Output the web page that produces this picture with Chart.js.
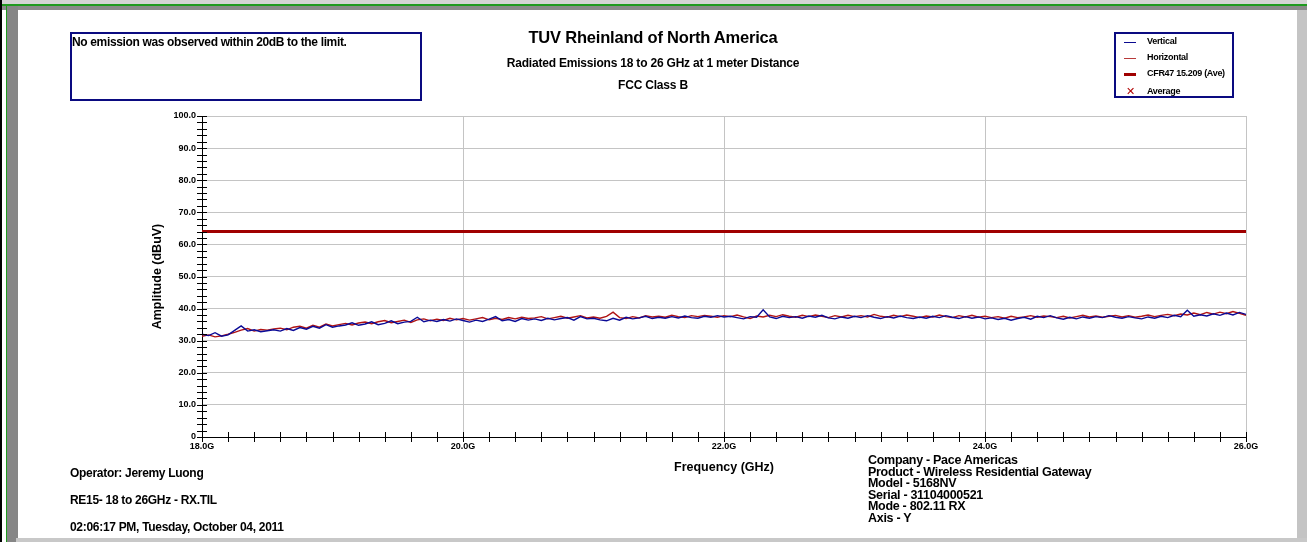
<!DOCTYPE html>
<html>
<head>
<meta charset="utf-8">
<script src="https://cdn.jsdelivr.net/npm/chart.js@4.4.1/dist/chart.umd.min.js"></script>
<style>
  body { margin: 0; background: #fff; font-family: 'Liberation Sans', Arial, sans-serif; }
  #wrap { position: relative; width: 1307px; height: 542px; overflow: hidden; background: #fff; }
  #c { position: absolute; left: 0; top: 0; }
  .abs { position: absolute; white-space: nowrap; font-weight: bold; color: #000; }
  .frame { position: absolute; }
  .box { position: absolute; border: 2px solid #0a0a80; box-sizing: border-box; }
  .leg { position: absolute; font-size: 9px; font-weight: bold; letter-spacing: -0.3px; }
  .sample { position: absolute; height: 0; }
</style>
</head>
<body>
<div id="wrap">
  <!-- window frame -->
  <div class="frame" style="left:0;top:0;width:1307px;height:4px;background:#d4d4d4"></div>
  <div class="frame" style="left:0;top:4px;width:1307px;height:2px;background:#1f9a1f"></div>
  <div class="frame" style="left:0;top:6px;width:1307px;height:4px;background:#8a8a8a"></div>
  <div class="frame" style="left:0;top:0;width:2px;height:542px;background:#000"></div>
  <div class="frame" style="left:6px;top:4px;width:1px;height:538px;background:#1f9a1f"></div>
  <div class="frame" style="left:7px;top:6px;width:11px;height:536px;background:#868686"></div>
  <div class="frame" style="left:1297px;top:10px;width:10px;height:532px;background:#c4c4c4"></div>
  <div class="frame" style="left:16px;top:538px;width:1291px;height:4px;background:#c8c8c8"></div>

  <canvas id="c" width="1307" height="538"></canvas>

  <!-- note box -->
  <div class="box" style="left:70px;top:32px;width:352px;height:69px"></div>
  <div class="abs" style="left:72px;top:35px;font-size:12px;letter-spacing:-0.35px">No emission was observed within 20dB to the limit.</div>

  <!-- titles -->
  <div class="abs" style="left:403px;width:500px;text-align:center;top:28px;font-size:16.5px;letter-spacing:-0.2px">TUV Rheinland of North America</div>
  <div class="abs" style="left:403px;width:500px;text-align:center;top:56px;font-size:12px;letter-spacing:-0.2px">Radiated Emissions 18 to 26 GHz at 1 meter Distance</div>
  <div class="abs" style="left:403px;width:500px;text-align:center;top:78px;font-size:12px;letter-spacing:-0.2px">FCC Class B</div>

  <!-- legend -->
  <div class="box" style="left:1114px;top:32px;width:120px;height:66px"></div>
  <div class="sample" style="left:1124px;top:42px;width:12px;border-top:1px solid #0a0a90"></div>
  <div class="leg" style="left:1147px;top:36px">Vertical</div>
  <div class="sample" style="left:1124px;top:58px;width:12px;border-top:1px solid #b83a3a"></div>
  <div class="leg" style="left:1147px;top:52px">Horizontal</div>
  <div class="sample" style="left:1124px;top:73px;width:12px;border-top:3px solid #a00000"></div>
  <div class="leg" style="left:1147px;top:68px">CFR47 15.209 (Ave)</div>
  <div class="leg" style="left:1126px;top:85px;font-size:11px;color:#b00000;font-weight:normal">&#x2715;</div>
  <div class="leg" style="left:1147px;top:86px">Average</div>

  <!-- footer texts -->
  <div class="abs" style="left:70px;top:466px;font-size:12px;letter-spacing:-0.3px">Operator: Jeremy Luong</div>
  <div class="abs" style="left:70px;top:493px;font-size:12px;letter-spacing:-0.3px">RE15- 18 to 26GHz - RX.TIL</div>
  <div class="abs" style="left:70px;top:520px;font-size:12px;letter-spacing:-0.3px">02:06:17 PM, Tuesday, October 04, 2011</div>
  <div class="abs" style="left:868px;top:455px;font-size:12.5px;line-height:11.5px;letter-spacing:-0.3px">Company - Pace Americas<br>Product - Wireless Residential Gateway<br>Model - 5168NV<br>Serial - 31104000521<br>Mode - 802.11 RX<br>Axis - Y</div>
</div>

<script>
// sweep: 18 GHz to 26 GHz, one reading every 0.05 GHz
const FREQ_START = 18.0;
const FREQ_STEP = 0.05;

// Vertical polarisation trace (dBuV)
const vertical = [
  32.0, 31.6, 32.5, 31.4, 31.8, 33.2, 34.6, 33.0, 33.4, 32.8, 33.1,
  33.4, 33.0, 33.8, 33.2, 34.1, 33.6, 34.5, 33.9, 35.0, 34.2,
  34.6, 34.9, 35.6, 34.8, 35.2, 35.9, 35.0, 35.4, 36.2, 35.3,
  35.8, 36.0, 37.3, 35.9, 36.4, 36.0, 36.6, 36.1, 36.8, 36.3,
  35.8, 36.4, 36.0, 36.7, 37.5, 36.2, 36.6, 36.0, 36.9, 36.4,
  36.8, 36.3, 37.0, 36.5, 36.9, 37.2, 36.4, 37.5, 36.8, 37.0,
  36.5, 36.2, 37.0, 36.4, 37.3, 36.8, 37.1, 37.6, 36.9, 37.3,
  37.0, 37.5, 37.1, 37.7, 37.2, 37.0, 37.6, 37.3, 37.8, 37.4,
  37.6, 37.2, 36.8, 37.5, 37.3, 39.6, 37.4, 36.9, 37.6, 37.2,
  37.5, 37.0, 37.7, 37.3, 37.9, 37.1, 36.8, 37.4, 37.0, 37.6,
  37.2, 37.8, 37.3, 36.9, 37.5, 37.1, 37.7, 37.2, 36.9, 37.4,
  37.0, 37.6, 37.2, 37.8, 37.3, 36.9, 37.5, 37.0, 37.4, 36.8,
  37.1, 36.6, 37.0, 36.4, 36.9, 37.3, 36.7, 37.6, 37.2, 37.8,
  37.1, 36.7, 37.3, 36.8, 37.4, 37.0, 37.5, 37.2, 37.8, 37.3,
  37.0, 37.5, 37.1, 36.8, 37.4, 37.0, 37.6, 37.2, 37.9, 37.5,
  39.5, 37.6, 38.1, 37.7, 38.4, 37.9, 38.6, 38.0, 38.8, 38.2
];

// Horizontal polarisation trace (dBuV)
const horizontal = [
  31.4, 31.8, 31.2, 31.5, 32.0, 32.6, 33.3, 33.8, 33.0, 33.5, 33.3,
  33.7, 33.9, 33.4, 34.2, 34.5, 33.9, 34.8, 34.2, 35.2, 34.6,
  35.0, 35.4, 34.9, 35.5, 35.8, 35.3, 35.9, 36.3, 35.6, 36.0,
  36.4, 35.7, 36.5, 36.8, 36.2, 36.7, 36.3, 37.0, 36.5, 36.9,
  36.4, 36.8, 37.2, 36.5, 37.0, 36.6, 37.2, 36.8, 37.3, 36.9,
  37.1, 37.5, 36.8, 37.2, 37.6, 37.0, 37.4, 37.8, 37.1, 37.4,
  37.0, 37.6, 38.9, 37.2, 36.9, 37.5, 37.1, 37.8, 37.4, 37.6,
  37.3, 37.9, 37.5, 37.2, 37.8, 37.5, 37.9, 37.6, 37.3, 37.8,
  37.5, 38.0, 37.4, 36.9, 37.7, 37.4, 37.9, 37.5, 38.1, 37.6,
  37.3, 37.9, 37.5, 38.0, 37.6, 37.2, 37.8, 37.4, 37.9, 37.5,
  37.8, 37.4, 38.2, 37.6, 37.3, 37.9, 37.5, 38.0, 37.6, 37.2,
  37.7, 37.4, 38.0, 37.5, 37.2, 37.8, 37.4, 37.9, 37.3, 37.6,
  37.2, 37.5, 37.0, 37.6, 37.2, 37.4, 37.8, 37.3, 37.7, 37.5,
  37.2, 37.6, 37.1, 37.5, 37.9, 37.4, 37.7, 37.3, 37.6, 37.9,
  37.4, 37.8, 37.3, 37.6, 38.0, 37.5, 37.9, 38.2, 37.8, 38.3,
  38.0, 38.6, 38.1, 38.8, 38.3, 38.9, 38.4, 39.1, 38.5, 37.9
];

// CFR47 15.209 average limit
const limitFreqs = [18.0, 26.0];
const limitValues = [64.0, 64.0];

// measured averages (none: no emission within 20 dB)
const averagePoints = [];

const xTickLabels = ['18.0G', '20.0G', '22.0G', '24.0G', '26.0G'];

const toXY = (vals) => vals.map((v, i) => ({ x: FREQ_START + i * FREQ_STEP, y: v }));
const isMult = (v, m) => Math.abs(v / m - Math.round(v / m)) < 1e-6;

// ticks that cross the axis line, like the original plot
const crossTicks = {
  id: 'crossTicks',
  afterDraw(chart) {
    const { ctx, chartArea, scales } = chart;
    ctx.save();
    ctx.strokeStyle = '#000';
    ctx.lineWidth = 1;
    ctx.beginPath();
    scales.x.ticks.forEach(t => {
      const px = Math.round(scales.x.getPixelForValue(t.value)) + 0.5;
      ctx.moveTo(px, chartArea.bottom - 5);
      ctx.lineTo(px, chartArea.bottom + 5);
    });
    scales.y.ticks.forEach(t => {
      const py = Math.round(scales.y.getPixelForValue(t.value)) + 0.5;
      ctx.moveTo(chartArea.left - 5, py);
      ctx.lineTo(chartArea.left + 5, py);
    });
    ctx.stroke();
    ctx.restore();
  }
};

const tickFont = { family: "'Liberation Sans', Arial, sans-serif", size: 9, weight: 'bold' };
const titleFont = { family: "'Liberation Sans', Arial, sans-serif", size: 12.5, weight: 'bold' };

new Chart(document.getElementById('c'), {
  type: 'line',
  data: {
    datasets: [
      {
        label: 'Vertical',
        data: toXY(vertical),
        borderColor: '#0a0a96',
        borderWidth: 1.4,
        pointRadius: 0,
        tension: 0
      },
      {
        label: 'Horizontal',
        data: toXY(horizontal),
        borderColor: '#b01414',
        borderWidth: 1.4,
        pointRadius: 0,
        tension: 0
      },
      {
        label: 'CFR47 15.209 (Ave)',
        data: limitFreqs.map((f, i) => ({ x: f, y: limitValues[i] })),
        borderColor: '#a00000',
        borderWidth: 3,
        pointRadius: 0
      },
      {
        label: 'Average',
        data: averagePoints,
        showLine: false,
        pointStyle: 'crossRot',
        pointRadius: 5,
        borderColor: '#b00000'
      }
    ]
  },
  options: {
    responsive: false,
    animation: false,
    devicePixelRatio: 1,
    layout: { padding: { left: 150, top: 116, right: 61, bottom: 63 } },
    plugins: { legend: { display: false }, tooltip: { enabled: false } },
    scales: {
      x: {
        type: 'linear',
        min: 18,
        max: 26,
        afterFit: (s) => { s.height = 38; },
        ticks: {
          stepSize: 0.2,
          maxTicksLimit: 100,
          autoSkip: false,
          maxRotation: 0,
          padding: 4,
          color: '#000',
          font: tickFont,
          callback: (v) => isMult(v, 2) ? xTickLabels[Math.round((v - 18) / 2)] : ''
        },
        grid: {
          drawTicks: false,
          color: (c) => (c.tick && isMult(c.tick.value, 2) && c.tick.value > 18) ? '#c4c4c4' : 'rgba(0,0,0,0)'
        },
        border: { display: true, color: '#000', width: 1 },
        title: {
          display: true,
          text: 'Frequency (GHz)',
          color: '#000',
          font: titleFont,
          padding: 0
        }
      },
      y: {
        min: 0,
        max: 100,
        afterFit: (s) => { s.width = 52; },
        ticks: {
          stepSize: 2,
          maxTicksLimit: 100,
          autoSkip: false,
          padding: 6,
          color: '#000',
          font: tickFont,
          callback: (v) => v === 0 ? '0' : (isMult(v, 10) ? v.toFixed(1) : '')
        },
        grid: {
          drawTicks: false,
          color: (c) => (c.tick && isMult(c.tick.value, 10) && c.tick.value > 0) ? '#c4c4c4' : 'rgba(0,0,0,0)'
        },
        border: { display: true, color: '#000', width: 1 },
        title: {
          display: true,
          text: 'Amplitude (dBuV)',
          color: '#000',
          font: titleFont,
          padding: 0
        }
      }
    }
  },
  plugins: [crossTicks]
});
</script>
</body>
</html>
